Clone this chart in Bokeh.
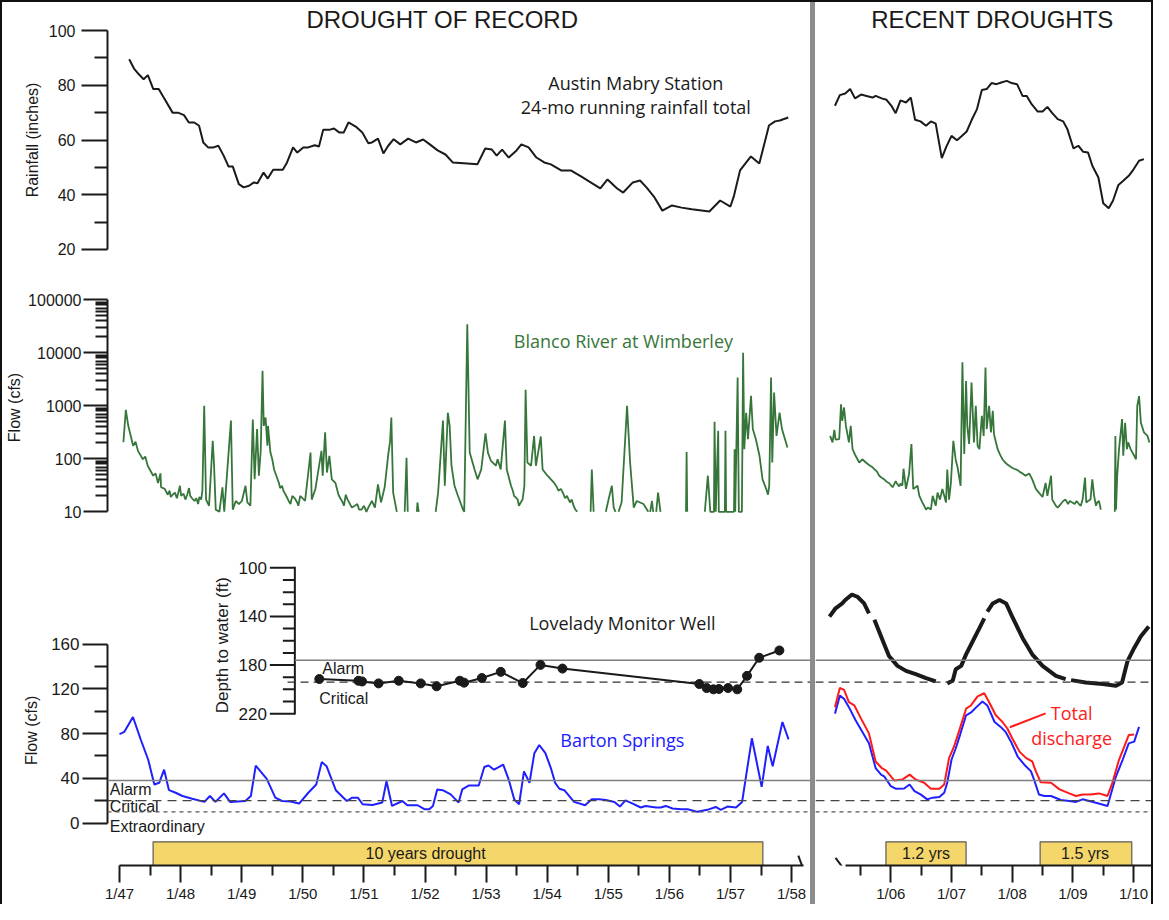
import math
from bokeh.plotting import figure
from bokeh.layouts import row, column
from bokeh.models import (Range1d, FixedTicker, PrintfTickFormatter, Span, Arrow, Div)
from bokeh.core.properties import value
from bokeh.embed import file_html
from bokeh.resources import INLINE

NaN = float("nan")

# ---------------------------------------------------------------- data
# Austin Mabry 24-month running rainfall total (decimal year, inches)
RAIN_1950S = [
    (1947.00, 89.5), (1947.08, 86.1), (1947.16, 84.0), (1947.24, 82.2), (1947.31, 83.7),
    (1947.40, 78.6), (1947.49, 78.6), (1947.59, 74.9), (1947.72, 70.0), (1947.81, 70.0),
    (1947.91, 69.1), (1947.99, 66.4), (1948.08, 66.4), (1948.16, 65.2), (1948.23, 59.1),
    (1948.31, 57.3), (1948.40, 57.3), (1948.48, 57.9), (1948.57, 54.2), (1948.65, 50.3),
    (1948.72, 50.3), (1948.82, 43.9), (1948.90, 42.7), (1948.99, 43.3), (1949.07, 44.5),
    (1949.13, 44.2), (1949.23, 48.1), (1949.30, 45.9), (1949.39, 49.1), (1949.55, 49.1),
    (1949.62, 51.8), (1949.72, 57.3), (1949.79, 55.4), (1949.89, 57.3), (1949.97, 57.3),
    (1950.08, 58.1), (1950.15, 57.6), (1950.22, 63.7), (1950.32, 63.7), (1950.40, 64.2),
    (1950.49, 62.7), (1950.56, 62.7), (1950.64, 66.4), (1950.76, 64.9), (1950.87, 62.7),
    (1950.97, 58.8), (1951.03, 59.1), (1951.13, 60.5), (1951.22, 55.1), (1951.30, 57.9),
    (1951.39, 60.3), (1951.50, 58.4), (1951.63, 60.5), (1951.76, 59.1), (1951.88, 60.2),
    (1951.99, 58.4), (1952.12, 56.2), (1952.25, 54.7), (1952.37, 51.8), (1952.61, 51.4),
    (1952.78, 51.1), (1952.91, 56.9), (1953.02, 56.5), (1953.10, 54.3), (1953.19, 56.5),
    (1953.30, 53.6), (1953.43, 56.2), (1953.51, 58.4), (1953.63, 57.3), (1953.76, 53.6),
    (1953.89, 51.8), (1954.00, 51.1), (1954.17, 48.9), (1954.33, 48.9), (1954.50, 46.7),
    (1954.66, 44.5), (1954.82, 42.3), (1954.94, 45.6), (1955.10, 42.3), (1955.20, 40.8),
    (1955.36, 44.5), (1955.48, 45.2), (1955.59, 42.6), (1955.72, 39.0), (1955.85, 34.2),
    (1956.01, 36.1), (1956.17, 35.3), (1956.34, 34.7), (1956.63, 33.9), (1956.81, 37.9),
    (1956.98, 35.7), (1957.04, 39.7), (1957.14, 48.9), (1957.32, 54.0), (1957.46, 51.4),
    (1957.52, 56.6), (1957.62, 65.3), (1957.72, 66.8), (1957.80, 67.1), (1957.94, 68.2),
]
RAIN_2000S = [
    (2005.08, 72.5), (2005.16, 76.4), (2005.25, 77.0), (2005.33, 78.6), (2005.41, 75.2),
    (2005.51, 76.6), (2005.60, 76.1), (2005.70, 75.5), (2005.75, 76.1), (2005.85, 75.2),
    (2005.93, 74.7), (2006.01, 72.5), (2006.08, 69.8), (2006.16, 74.5), (2006.25, 73.7),
    (2006.33, 75.5), (2006.40, 67.4), (2006.49, 66.8), (2006.58, 65.2), (2006.66, 66.8),
    (2006.74, 66.0), (2006.84, 53.4), (2006.91, 57.3), (2007.00, 61.5), (2007.09, 59.9),
    (2007.17, 61.5), (2007.25, 63.1), (2007.33, 67.2), (2007.42, 71.3), (2007.50, 78.3),
    (2007.58, 78.6), (2007.66, 80.8), (2007.74, 80.4), (2007.82, 81.0), (2007.91, 81.6),
    (2007.99, 80.8), (2008.08, 80.4), (2008.17, 76.1), (2008.24, 76.1), (2008.32, 73.1),
    (2008.42, 70.4), (2008.50, 70.4), (2008.58, 72.1), (2008.66, 69.8), (2008.75, 67.6),
    (2008.84, 66.8), (2008.91, 63.9), (2009.01, 56.9), (2009.09, 57.9), (2009.17, 55.7),
    (2009.25, 55.4), (2009.32, 50.6), (2009.42, 46.3), (2009.50, 36.9), (2009.59, 35.1),
    (2009.66, 37.8), (2009.75, 43.6), (2009.83, 45.1), (2009.92, 46.9), (2010.00, 49.3),
    (2010.09, 52.4), (2010.17, 53.0),
]

# Blanco River at Wimberley flow (decimal year, cfs); NaN = no plotted value
BLANCO_1950S = [
    (1947.00, 205), (1947.04, 840), (1947.08, 420), (1947.16, 176), (1947.20, 209),
    (1947.24, 141), (1947.32, 98), (1947.36, 110), (1947.40, 74), (1947.49, 48),
    (1947.53, 53), (1947.57, 35), (1947.61, 53), (1947.62, 29), (1947.68, 27),
    (1947.73, 21), (1947.76, 25), (1947.78, 19), (1947.81, 21), (1947.85, 23),
    (1947.88, 18), (1947.90, 22), (1947.93, 31), (1947.95, 20), (1947.99, 22),
    (1948.02, 17), (1948.05, 21), (1948.08, 28), (1948.10, 20), (1948.13, 18),
    (1948.17, 16), (1948.20, 18), (1948.23, 14), (1948.25, 19), (1948.28, 17),
    (1948.30, 25), (1948.33, 1000), (1948.36, 17), (1948.41, 13), (1948.47, 219),
    (1948.49, 85), (1948.52, 11), (1948.58, 10), (1948.63, 29), (1948.66, 10),
    (1948.77, 525), (1948.80, 11), (1948.85, 16), (1948.90, 14), (1948.95, 16),
    (1949.01, 31), (1949.04, 15), (1949.09, 13), (1949.13, 550), (1949.16, 41),
    (1949.20, 364), (1949.23, 48), (1949.26, 141), (1949.29, 4570), (1949.31, 417),
    (1949.34, 600), (1949.37, 176), (1949.38, 417), (1949.42, 131), (1949.45, 98),
    (1949.48, 63), (1949.56, 35), (1949.58, 28), (1949.61, 31), (1949.64, 24),
    (1949.67, 21), (1949.70, 18), (1949.72, 16), (1949.75, 14), (1949.78, 20),
    (1949.82, 18), (1949.86, 15), (1949.88, 13), (1949.91, 20), (1949.95, 18),
    (1949.99, 16), (1950.08, 131), (1950.10, 17), (1950.16, 27), (1950.26, 141),
    (1950.28, 48), (1950.32, 316), (1950.35, 55), (1950.39, 114), (1950.43, 41),
    (1950.49, 35), (1950.54, 21), (1950.57, 18), (1950.61, 15), (1950.63, 13),
    (1950.66, 21), (1950.69, 17), (1950.73, 14), (1950.76, 12), (1950.81, 13),
    (1950.85, 14), (1950.88, 11), (1950.92, 11), (1950.96, 13), (1951.00, 10),
    (1951.03, 12), (1951.09, 16), (1951.14, 12), (1951.19, 33), (1951.24, 15),
    (1951.30, 29), (1951.36, 123), (1951.39, 219), (1951.41, 600), (1951.44, 23),
    (1951.50, 10), (1951.50, NaN),
    (1951.63, 10), (1951.66, 105), (1951.68, 10), (1951.68, NaN),
    (1951.83, 10), (1951.84, 15), (1951.86, 10), (1951.86, NaN),
    (1952.14, 10), (1952.18, 23), (1952.26, 525), (1952.29, 31), (1952.34, 740),
    (1952.37, 417), (1952.40, 74), (1952.45, 31), (1952.50, 21), (1952.59, 11),
    (1952.61, 10), (1952.66, 34700), (1952.70, 131), (1952.78, 63), (1952.83, 41),
    (1952.89, 63), (1952.96, 303), (1953.00, 131), (1953.05, 91), (1953.13, 74),
    (1953.16, 98), (1953.21, 63), (1953.28, 525), (1953.31, 63), (1953.38, 31),
    (1953.41, 25), (1953.43, 20), (1953.46, 18.6), (1953.49, 17), (1953.51, 13),
    (1953.54, 15), (1953.57, 17), (1953.60, 31), (1953.62, 2000), (1953.65, 85),
    (1953.71, 74), (1953.76, 270), (1953.79, 74), (1953.87, 264), (1953.90, 63),
    (1953.98, 48), (1954.09, 35), (1954.13, 30), (1954.16, 25), (1954.20, 27),
    (1954.24, 22), (1954.27, 18), (1954.30, 20), (1954.35, 15), (1954.38, 17),
    (1954.41, 13), (1954.44, 11), (1954.47, 10), (1954.47, NaN),
    (1954.69, 10), (1954.71, 63), (1954.74, 10), (1954.74, NaN),
    (1954.94, 10), (1954.99, 18), (1955.04, 31), (1955.07, 12), (1955.10, 10), (1955.10, NaN),
    (1955.15, 10), (1955.20, 15), (1955.29, 1000), (1955.34, 85), (1955.40, 12),
    (1955.45, 16), (1955.56, 14), (1955.64, 10), (1955.64, NaN),
    (1955.67, 10), (1955.70, 16), (1955.72, 10), (1955.72, NaN),
    (1955.77, 10), (1955.80, 23), (1955.84, 10), (1955.84, NaN),
    (1956.26, 10), (1956.27, 134), (1956.28, 10), (1956.28, NaN),
    (1956.57, 10), (1956.62, 48), (1956.66, 10), (1956.72, 10), (1956.73, 500),
    (1956.75, 10), (1956.79, 338), (1956.80, 10), (1956.90, 10), (1956.91, 338),
    (1956.92, 10), (1957.05, 10), (1957.06, 152), (1957.07, 10), (1957.11, 3400),
    (1957.13, 10), (1957.18, 10), (1957.20, 10000), (1957.22, 152), (1957.25, 740),
    (1957.28, 234), (1957.33, 1550), (1957.36, 364), (1957.41, 234), (1957.47, 114),
    (1957.52, 41), (1957.58, 27), (1957.61, 21), (1957.63, 31), (1957.66, 3400),
    (1957.68, 85), (1957.71, 1780), (1957.75, 270), (1957.80, 740), (1957.84, 364),
    (1957.88, 254), (1957.93, 163),
]
BLANCO_2000S = [
    (2005.00, 270), (2005.04, 204), (2005.07, 353), (2005.09, 229), (2005.15, 234),
    (2005.18, 1070), (2005.20, 520), (2005.23, 930), (2005.26, 417), (2005.31, 204),
    (2005.34, 417), (2005.37, 152), (2005.42, 114), (2005.48, 85), (2005.53, 98),
    (2005.59, 85), (2005.63, 78), (2005.66, 74), (2005.70, 69), (2005.74, 62),
    (2005.77, 58), (2005.81, 48), (2005.85, 44), (2005.89, 41), (2005.93, 37),
    (2005.97, 35), (2006.03, 29), (2006.08, 38), (2006.11, 33), (2006.14, 30),
    (2006.16, 34), (2006.19, 31), (2006.21, 65), (2006.25, 27), (2006.30, 51),
    (2006.34, 190), (2006.37, 27), (2006.44, 31), (2006.47, 20), (2006.52, 15),
    (2006.55, 13), (2006.58, 11), (2006.61, 12), (2006.66, 11), (2006.69, 20),
    (2006.74, 13), (2006.77, 23), (2006.81, 17), (2006.85, 27), (2006.91, 15),
    (2006.93, 63), (2006.96, 17), (2006.99, 35), (2007.03, 219), (2007.07, 95),
    (2007.10, 69), (2007.15, 31), (2007.18, 6600), (2007.21, 123), (2007.24, 2950),
    (2007.26, 417), (2007.29, 190), (2007.33, 2750), (2007.37, 204), (2007.40, 1000),
    (2007.43, 176), (2007.46, 152), (2007.50, 650), (2007.53, 270), (2007.56, 5250),
    (2007.58, 364), (2007.62, 1000), (2007.65, 316), (2007.68, 805), (2007.70, 290),
    (2007.76, 152), (2007.80, 120), (2007.84, 98), (2007.88, 86), (2007.91, 80),
    (2007.95, 74), (2008.00, 68), (2008.03, 65), (2008.06, 63), (2008.10, 60),
    (2008.13, 56), (2008.17, 53), (2008.22, 48), (2008.28, 53), (2008.33, 41),
    (2008.39, 27), (2008.44, 23), (2008.50, 19), (2008.55, 35), (2008.58, 20),
    (2008.64, 48), (2008.66, 17), (2008.72, 13), (2008.75, 12), (2008.80, 14),
    (2008.84, 16), (2008.88, 17), (2008.92, 14), (2008.95, 16), (2008.99, 15),
    (2009.03, 14), (2009.06, 16), (2009.10, 14), (2009.13, 13), (2009.16, 17),
    (2009.20, 44), (2009.22, 15), (2009.25, 16), (2009.29, 17), (2009.32, 41),
    (2009.35, 20), (2009.38, 13), (2009.40, 15), (2009.43, 16), (2009.46, 11),
    (2009.46, NaN),
    (2009.69, 10), (2009.70, 270), (2009.71, 11), (2009.73, 48), (2009.76, 152),
    (2009.81, 560), (2009.83, 114), (2009.86, 480), (2009.89, 152), (2009.91, 204),
    (2009.95, 152), (2010.01, 114), (2010.04, 98), (2010.06, 1000), (2010.09, 1520),
    (2010.12, 480), (2010.17, 316), (2010.23, 270), (2010.26, 204),
]

# Lovelady monitor well depth to water (decimal year, ft)
WELL_1950S = [
    (1950.27, 191.5), (1950.91, 192.9), (1950.97, 193.5), (1951.24, 195.1), (1951.57, 192.9),
    (1951.93, 195.1), (1952.19, 197.5), (1952.57, 192.9), (1952.64, 194.5), (1952.93, 190.7),
    (1953.24, 185.6), (1953.60, 194.8), (1953.89, 179.9), (1954.25, 182.9), (1956.49, 195.6),
    (1956.61, 198.9), (1956.72, 200.0), (1956.81, 199.7), (1956.96, 198.9), (1957.11, 200.0),
    (1957.27, 188.9), (1957.47, 174.0), (1957.80, 168.0),
]
WELL_2000S = [
    (2004.99, 140.1), (2005.09, 133.3), (2005.20, 129.3), (2005.25, 126.5), (2005.36, 122.0),
    (2005.45, 123.8), (2005.56, 129.3), (2005.64, 137.4), (2005.64, NaN),
    (2005.73, 142.8), (2005.86, 159.0), (2005.97, 172.6), (2006.11, 180.7), (2006.25, 184.8),
    (2006.41, 187.5), (2006.58, 190.7), (2006.74, 193.5), (2006.74, NaN),
    (2006.93, 195.1), (2007.02, 192.9), (2007.07, 183.4), (2007.16, 180.7), (2007.24, 171.2),
    (2007.35, 160.4), (2007.46, 149.6), (2007.54, 141.5), (2007.54, NaN),
    (2007.59, 136.0), (2007.68, 129.3), (2007.79, 126.5), (2007.90, 129.3), (2008.00, 140.1),
    (2008.17, 157.7), (2008.33, 171.2), (2008.50, 180.7), (2008.72, 188.9), (2008.88, 191.6),
    (2008.88, NaN),
    (2008.97, 192.4), (2009.21, 194.3), (2009.49, 195.6), (2009.71, 197.0), (2009.81, 194.3),
    (2009.90, 176.7), (2010.01, 165.9), (2010.12, 156.3), (2010.25, 148.2),
]

# Barton Springs flow (decimal year, cfs)
BARTON_1950S = [
    (1947.00, 79.6), (1947.08, 81.6), (1947.22, 94.9), (1947.35, 74.3), (1947.47, 56.6),
    (1947.57, 34.5), (1947.65, 36.0), (1947.73, 47.7), (1947.81, 29.4), (1947.92, 27.1),
    (1948.03, 24.2), (1948.19, 21.8), (1948.39, 18.9), (1948.48, 24.2), (1948.57, 18.9),
    (1948.71, 26.5), (1948.81, 18.9), (1949.06, 19.7), (1949.15, 24.2), (1949.23, 51.3),
    (1949.41, 39.5), (1949.55, 22.7), (1949.66, 19.7), (1949.80, 19.2), (1949.94, 17.4),
    (1950.09, 27.1), (1950.22, 34.5), (1950.31, 54.5), (1950.39, 50.7), (1950.54, 29.4),
    (1950.72, 19.7), (1950.81, 22.7), (1950.90, 22.7), (1950.98, 16.8), (1951.14, 16.2),
    (1951.30, 18.3), (1951.37, 37.4), (1951.46, 15.3), (1951.63, 19.7), (1951.71, 15.9),
    (1951.88, 15.9), (1951.99, 12.4), (1952.07, 12.4), (1952.13, 15.3), (1952.20, 30.1),
    (1952.29, 29.4), (1952.42, 25.6), (1952.55, 18.3), (1952.61, 30.1), (1952.72, 33.6),
    (1952.88, 33.6), (1952.97, 50.1), (1953.04, 51.5), (1953.13, 47.7), (1953.28, 52.2),
    (1953.37, 38.9), (1953.46, 21.2), (1953.54, 16.8), (1953.62, 46.2), (1953.71, 36.0),
    (1953.79, 62.5), (1953.87, 69.8), (1953.97, 62.5), (1954.06, 49.2), (1954.13, 36.0),
    (1954.20, 30.7), (1954.28, 29.4), (1954.44, 18.9), (1954.62, 15.9), (1954.73, 21.2),
    (1954.85, 21.2), (1954.96, 20.6), (1955.10, 18.9), (1955.19, 14.7), (1955.28, 20.3),
    (1955.40, 17.4), (1955.53, 13.9), (1955.61, 15.3), (1955.78, 13.9), (1955.86, 13.9),
    (1955.94, 15.3), (1956.05, 13.0), (1956.19, 12.4), (1956.30, 12.4), (1956.46, 10.0),
    (1956.62, 11.8), (1956.76, 14.4), (1956.84, 11.8), (1956.95, 14.7), (1957.09, 13.9),
    (1957.19, 18.9), (1957.35, 75.8), (1957.51, 32.4), (1957.61, 69.0), (1957.69, 50.7),
    (1957.85, 90.4), (1957.95, 74.9),
]
BARTON_2000S = [
    (2005.08, 97.9), (2005.16, 114.0), (2005.23, 111.1), (2005.31, 103.7), (2005.42, 91.9),
    (2005.53, 81.6), (2005.64, 71.3), (2005.75, 49.2), (2005.84, 43.3), (2005.89, 41.8),
    (2006.00, 33.0), (2006.08, 30.7), (2006.22, 30.9), (2006.31, 34.5), (2006.39, 28.6),
    (2006.49, 25.6), (2006.60, 21.2), (2006.69, 22.7), (2006.80, 23.3), (2006.88, 27.1),
    (2006.93, 36.0), (2007.00, 56.6), (2007.07, 66.9), (2007.14, 78.7), (2007.24, 96.4),
    (2007.33, 99.3), (2007.41, 103.7), (2007.51, 108.7), (2007.59, 105.2), (2007.71, 90.4),
    (2007.81, 86.0), (2007.89, 81.6), (2007.98, 72.8), (2008.09, 59.5), (2008.20, 52.2),
    (2008.31, 46.2), (2008.36, 38.9), (2008.44, 25.6), (2008.53, 24.2), (2008.64, 24.2),
    (2008.80, 20.6), (2008.94, 19.7), (2009.05, 18.9), (2009.16, 21.2), (2009.27, 19.7),
    (2009.41, 17.7), (2009.57, 15.3), (2009.71, 41.8), (2009.82, 56.6), (2009.92, 71.3),
    (2010.01, 72.8), (2010.09, 86.0),
]
TOTAL_2000S = [
    (2005.08, 103.7), (2005.16, 120.8), (2005.23, 119.1), (2005.31, 108.1), (2005.40, 105.2),
    (2005.51, 93.4), (2005.64, 80.2), (2005.75, 55.1), (2005.85, 49.2), (2005.92, 47.1),
    (2006.06, 38.0), (2006.19, 38.9), (2006.31, 43.3), (2006.41, 38.9), (2006.55, 36.0),
    (2006.66, 30.7), (2006.80, 30.7), (2006.88, 34.5), (2006.96, 58.1), (2007.04, 68.3),
    (2007.13, 83.1), (2007.24, 102.3), (2007.32, 105.2), (2007.43, 113.4), (2007.54, 116.1),
    (2007.62, 108.1), (2007.73, 96.4), (2007.84, 90.4), (2007.92, 84.6), (2008.00, 75.8),
    (2008.12, 63.9), (2008.23, 58.1), (2008.33, 55.1), (2008.39, 46.2), (2008.47, 36.5),
    (2008.64, 36.0), (2008.78, 30.1), (2008.94, 26.5), (2009.05, 24.2), (2009.16, 25.6),
    (2009.29, 25.6), (2009.43, 26.5), (2009.57, 24.2), (2009.65, 36.0), (2009.76, 56.6),
    (2009.92, 78.7), (2010.01, 79.3),
]

# thresholds
BARTON_ALARM, BARTON_CRITICAL, BARTON_EXTRAORDINARY = 38, 20, 10
WELL_ALARM, WELL_CRITICAL = 176, 194

# drought periods (start, end, label, label position)
DROUGHTS_1950S = [(1947.55, 1957.53, "10 years drought", 1952.01)]
DROUGHTS_2000S = [(2005.92, 2007.24, "1.2 yrs", 2006.58), (2008.46, 2009.97, "1.5 yrs", 2009.2)]

# axis ticks and labels
RAIN_TICKS, RAIN_MINOR = [20, 40, 60, 80, 100], [30, 50, 70, 90]
FLOW_LOG_TICKS = [10, 100, 1000, 10000, 100000]
FLOW_LOG_MINOR = [m * 10 ** k for k in range(1, 5) for m in range(2, 10)]
BARTON_TICKS, BARTON_MINOR = [0, 40, 80, 120, 160], [20, 60, 100, 140]
DEPTH_TICKS = [100, 140, 180, 220]
DEPTH_MINOR = [110, 120, 130, 150, 160, 170, 190, 200, 210]
YEARS_1950S = list(range(1947, 1959))
YEARS_2000S = list(range(2006, 2011))
YEAR_LABELS_1950S = {y: "1/%02d" % (y % 100) for y in YEARS_1950S}
YEAR_LABELS_2000S = {y: "1/%02d" % (y % 100) for y in YEARS_2000S}

# ---------------------------------------------------------------- layout
INK = "#1a1a1a"
AXIS_FONT = "Liberation Sans"
NOTE_FONT = "Open Sans"
GREEN, BLUE, RED = "#37763a", "#2020ff", "#ff1a1a"
GOLD = "#f4d66b"
NBSP = "\u00a0"

LEFT_W, DIV_W, RIGHT_W = 808, 5, 336
ROW_H = [275, 260, 367]
BOTTOM_BORDER = 35

# time scales (page px)
L_ORIGIN_PX, L_PX_PER_YR = 127.0, 61.1       # 1/47 at x=127
R_ORIGIN_PX, R_PX_PER_YR = 898.3, 60.7       # 1/06 at x=898.3
L_COL_X0 = 10
R_COL_X0 = L_COL_X0 + LEFT_W + DIV_W


def left_xrange(border_left):
    x0 = L_COL_X0 + border_left
    x1 = L_COL_X0 + LEFT_W
    return Range1d(1947 + (x0 - L_ORIGIN_PX) / L_PX_PER_YR,
                   1947 + (x1 - L_ORIGIN_PX) / L_PX_PER_YR)


def right_xrange():
    return Range1d(2006 + (R_COL_X0 - R_ORIGIN_PX) / R_PX_PER_YR,
                   2006 + (R_COL_X0 + RIGHT_W - R_ORIGIN_PX) / R_PX_PER_YR)


RAIN_RANGE = (9.77, 110.23)
FLOW_LOG_RANGE = (3.274, 263500)
BARTON_RANGE = (-38.01, 255.5)
DEPTH_RANGE = (344.96, 75.04)   # inverted: depth grows downward


def unzip(pairs):
    return [a for a, _ in pairs], [b for _, b in pairs]


def make_fig(w, h, xr, yr, left=0, bottom=0, y_type="linear", xloc=None, yloc=None):
    p = figure(width=w, height=h, x_range=xr, y_range=yr, y_axis_type=y_type,
               x_axis_location=xloc, y_axis_location=yloc,
               output_backend="svg", toolbar_location=None,
               min_border_left=left, min_border_right=0, min_border_top=0,
               min_border_bottom=bottom)
    p.outline_line_color = None
    p.background_fill_color = "white"
    p.border_fill_color = "white"
    for g in p.grid:
        g.visible = False
    return p


def style_axis(ax, major_out, minor_out, label_size="16px"):
    ax.axis_line_width = 2
    ax.axis_line_color = INK
    ax.major_tick_line_width = 2
    ax.minor_tick_line_width = 2
    ax.major_tick_line_color = INK
    ax.minor_tick_line_color = INK
    ax.major_tick_in = 0
    ax.major_tick_out = major_out
    ax.minor_tick_in = 0
    ax.minor_tick_out = minor_out
    ax.major_label_text_font = AXIS_FONT
    ax.major_label_text_font_size = label_size
    ax.major_label_text_color = INK
    ax.axis_label_text_font = AXIS_FONT
    ax.axis_label_text_font_size = "16px"
    ax.axis_label_text_font_style = "normal"
    ax.axis_label_text_color = INK


def note(p, x, y, txt, size="18px", color=INK, font=NOTE_FONT, align="center",
         angle=0.0, y_range_name="default"):
    p.text(x=[x], y=[y], text=[txt], text_font=value(font), text_font_size=value(size),
           text_color=color, text_align=align, text_baseline="middle", angle=angle,
           y_range_name=y_range_name)


# ---------------------------------------------------------------- row 1: rainfall
rainL = make_fig(LEFT_W, ROW_H[0], left_xrange(95), Range1d(*RAIN_RANGE), left=95, yloc="left")
ax = rainL.yaxis[0]
style_axis(ax, 26, 13)
ax.bounds = (20, 100)
ax.ticker = FixedTicker(ticks=RAIN_TICKS, minor_ticks=RAIN_MINOR)
ax.major_label_standoff = 6
ax.axis_label = "Rainfall (inches)"
ax.axis_label_standoff = 5
xs, ys = unzip(RAIN_1950S)
rainL.line(xs, ys, line_color=INK, line_width=2)
note(rainL, 1952.20, 104.0, "DROUGHT OF RECORD", size="24px", font=AXIS_FONT)
note(rainL, 1955.41, 81.0, "Austin Mabry Station")
note(rainL, 1955.41, 72.2, "24-mo running rainfall total")

rainR = make_fig(RIGHT_W, ROW_H[0], right_xrange(), Range1d(*RAIN_RANGE))
xs, ys = unzip(RAIN_2000S)
rainR.line(xs, ys, line_color=INK, line_width=2)
note(rainR, 2007.675, 104.0, "RECENT DROUGHTS", size="24px", font=AXIS_FONT)

# ---------------------------------------------------------------- row 2: Blanco River
blancoL = make_fig(LEFT_W, ROW_H[1], left_xrange(101), Range1d(*FLOW_LOG_RANGE), left=101,
                   y_type="log", yloc="left")
ax = blancoL.yaxis[0]
style_axis(ax, 24, 12)
ax.bounds = (10, 100000)
ax.ticker = FixedTicker(ticks=FLOW_LOG_TICKS, minor_ticks=FLOW_LOG_MINOR)
ax.formatter = PrintfTickFormatter(format="%.0f")
ax.major_label_standoff = 2
ax.axis_label = "Flow (cfs)"
ax.axis_label_standoff = 2
xs, ys = unzip(BLANCO_1950S)
blancoL.line(xs, ys, line_color=GREEN, line_width=1.8)
note(blancoL, 1955.23, 16830, "Blanco River at Wimberley", color=GREEN)

blancoR = make_fig(RIGHT_W, ROW_H[1], right_xrange(), Range1d(*FLOW_LOG_RANGE), y_type="log")
xs, ys = unzip(BLANCO_2000S)
blancoR.line(xs, ys, line_color=GREEN, line_width=1.8)


# ---------------------------------------------------------------- row 3: Barton Springs + well
def time_axis(p, bounds, years, labels, minors):
    ax = p.xaxis[0]
    style_axis(ax, 17, 10, label_size="15px")
    ax.bounds = bounds
    ax.ticker = FixedTicker(ticks=years, minor_ticks=minors)
    ax.major_label_overrides = labels
    ax.major_label_standoff = 2


def thresholds(p):
    p.add_layout(Span(location=BARTON_ALARM, dimension="width", line_color="#7f7f7f",
                      line_width=1.5))
    p.add_layout(Span(location=BARTON_CRITICAL, dimension="width", line_color="#444444",
                      line_width=1.3, line_dash="9 6"))
    p.add_layout(Span(location=BARTON_EXTRAORDINARY, dimension="width", line_color="#555555",
                      line_width=1.3, line_dash="4 4"))


def drought_bars(p, periods):
    p.quad(left=[d[0] for d in periods], right=[d[1] for d in periods],
           bottom=BARTON_RANGE[0], top=-16.8, fill_color=GOLD, line_color="#5a5a5a",
           line_width=1.2)
    p.text(x=[d[3] for d in periods], y=[-27.4] * len(periods),
           text=[d[2] for d in periods], text_font=value(AXIS_FONT),
           text_font_size=value("16px"), text_color=INK, text_align="center",
           text_baseline="middle")


botL = make_fig(LEFT_W, ROW_H[2], left_xrange(105), Range1d(*BARTON_RANGE), left=105,
                bottom=BOTTOM_BORDER, xloc="below", yloc="left")
botL.extra_y_ranges = {"depth": Range1d(*DEPTH_RANGE)}
ax = botL.yaxis[0]
style_axis(ax, 25, 13, label_size="17px")
ax.bounds = (0, 160)
ax.ticker = FixedTicker(ticks=BARTON_TICKS, minor_ticks=BARTON_MINOR)
ax.major_label_standoff = 3
ax.axis_label = "Flow (cfs)" + NBSP * 13
ax.axis_label_standoff = 8
time_axis(botL, (1947, 1958.2), YEARS_1950S, YEAR_LABELS_1950S,
          [y + 0.5 for y in YEARS_1950S[:-1]])
thresholds(botL)
drought_bars(botL, DROUGHTS_1950S)
botL.add_layout(Arrow(end=None, x_start=1958.11, y_start=-29.2, x_end=1958.23, y_end=-46.9,
                      line_width=2, line_color=INK))

# well depth inset axis (drawn inside the plot at a fixed time position)
DAX = 1949.87
botL.segment(x0=[DAX], y0=[99.2], x1=[DAX], y1=[220.8], line_width=2, line_color=INK,
             y_range_name="depth")
botL.ray(x=[DAX] * len(DEPTH_TICKS), y=DEPTH_TICKS, length=25, angle=math.pi,
         length_units="screen", line_width=2, line_color=INK, y_range_name="depth")
botL.ray(x=[DAX] * len(DEPTH_MINOR), y=DEPTH_MINOR, length=12, angle=math.pi,
         length_units="screen", line_width=2, line_color=INK, y_range_name="depth")
botL.text(x=[DAX] * len(DEPTH_TICKS), y=DEPTH_TICKS, text=[str(t) for t in DEPTH_TICKS],
          x_offset=-28, text_align="right", text_baseline="middle",
          text_font=value(AXIS_FONT), text_font_size=value("17px"), text_color=INK,
          y_range_name="depth")
note(botL, 1948.69, 163.7, "Depth to water (ft)", size="17px", font=AXIS_FONT,
     angle=math.pi / 2, y_range_name="depth")
botL.segment(x0=[DAX], x1=[1958.4], y0=[WELL_ALARM], y1=[WELL_ALARM], line_color="#7f7f7f",
             line_width=1.5, y_range_name="depth")
botL.segment(x0=[DAX - 0.12], x1=[1958.4], y0=[WELL_CRITICAL], y1=[WELL_CRITICAL],
             line_color="#333333", line_width=1.3, line_dash="8 5", y_range_name="depth")
note(botL, 1950.32, 182.6, "Alarm", size="16px", font=AXIS_FONT, align="left",
     y_range_name="depth")
note(botL, 1950.27, 207.3, "Critical", size="16px", font=AXIS_FONT, align="left",
     y_range_name="depth")
xs, ys = unzip(WELL_1950S)
botL.line(xs, ys, line_color=INK, line_width=2, y_range_name="depth")
botL.scatter(xs, ys, size=9, fill_color=INK, line_color=INK, y_range_name="depth")
note(botL, 1955.23, 145.5, "Lovelady Monitor Well", y_range_name="depth")

note(botL, 1946.84, 30.1, "Alarm", size="16px", font=AXIS_FONT, align="left")
note(botL, 1946.84, 14.8, "Critical", size="16px", font=AXIS_FONT, align="left")
note(botL, 1946.84, -2.9, "Extraordinary", size="16px", font=AXIS_FONT, align="left")
xs, ys = unzip(BARTON_1950S)
botL.line(xs, ys, line_color=BLUE, line_width=2)
note(botL, 1955.23, 74.3, "Barton Springs", color=BLUE)

botR = make_fig(RIGHT_W, ROW_H[2], right_xrange(), Range1d(*BARTON_RANGE),
                bottom=BOTTOM_BORDER, xloc="below")
botR.extra_y_ranges = {"depth": Range1d(*DEPTH_RANGE)}
time_axis(botR, (2005.25, 2010.3), YEARS_2000S, YEAR_LABELS_2000S,
          [y - 0.5 for y in YEARS_2000S])
thresholds(botR)
drought_bars(botR, DROUGHTS_2000S)
botR.add_layout(Arrow(end=None, x_start=2005.09, y_start=-31.2, x_end=2005.26, y_end=-43.6,
                      line_width=2, line_color=INK))
botR.add_layout(Span(location=WELL_ALARM, dimension="width", line_color="#7f7f7f",
                     line_width=1.5, y_range_name="depth"))
botR.add_layout(Span(location=WELL_CRITICAL, dimension="width", line_color="#333333",
                     line_width=1.3, line_dash="8 5", y_range_name="depth"))
xs, ys = unzip(WELL_2000S)
botR.line(xs, ys, line_color=INK, line_width=4, y_range_name="depth")
xs, ys = unzip(BARTON_2000S)
botR.line(xs, ys, line_color=BLUE, line_width=2)
xs, ys = unzip(TOTAL_2000S)
botR.line(xs, ys, line_color=RED, line_width=2)
botR.segment(x0=[2007.96], y0=[85.7], x1=[2008.55], y1=[98.1], line_color=RED, line_width=2)
note(botR, 2008.98, 98.1, "Total", color=RED)
note(botR, 2008.98, 76.0, "discharge", color=RED)

# ---------------------------------------------------------------- assemble
left_col = column(rainL, blancoL, botL, spacing=0)
right_col = column(rainR, blancoR, botR, spacing=0)
divider = Div(text="", width=DIV_W, height=sum(ROW_H), margin=(0, 0, 0, 0),
              styles={"background-color": "#8c8c8c"})
root = row(left_col, divider, right_col, spacing=0,
           styles={"border-top": "2px solid #111111", "border-left": "2px solid #111111",
                   "border-right": "2px solid #111111"})

open("out.html", "w").write(file_html(root, INLINE))
